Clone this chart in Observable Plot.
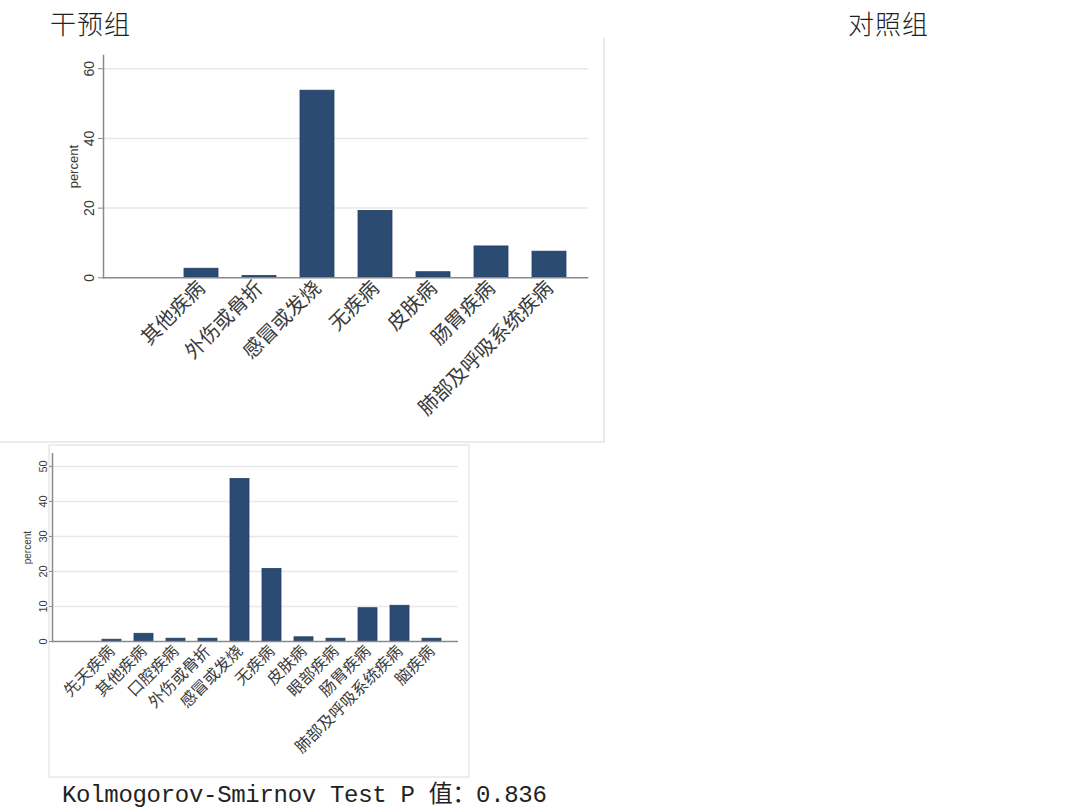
<!DOCTYPE html>
<html>
<head>
<meta charset="utf-8">
<script src="https://cdn.jsdelivr.net/npm/d3@7"></script>
<script src="https://cdn.jsdelivr.net/npm/@observablehq/plot@0.6"></script>
<style>
  html, body { margin: 0; padding: 0; background: #fff; }
  #page { position: relative; width: 1072px; height: 812px; overflow: hidden; background: #fff; }
  .title { position: absolute; font-family: "Noto Sans CJK SC", sans-serif; font-weight: 300;
           font-size: 26px; line-height: 1; color: #222; letter-spacing: 1px; }
  .panel { position: absolute; box-sizing: border-box; }
  .chart { position: absolute; }
  #caption { position: absolute; left: 62px; top: 784px; font-family: "Liberation Mono", "Noto Sans CJK SC", monospace;
             font-size: 24px; line-height: 1; color: #222; letter-spacing: -0.3px; white-space: pre; }
</style>
</head>
<body>
<div id="page">
  <div class="title" style="left:50px; top:10px;">干预组</div>
  <div class="title" style="left:848px; top:10px;">对照组</div>
  <div class="panel" style="left:0; top:38px; width:605px; height:405px; border-right:2px solid #ebebeb; border-bottom:2px solid #ebebeb;"></div>
  <div class="panel" style="left:48px; top:444px; width:422px; height:334px; border:2px solid #ededed;"></div>
  <div class="chart" id="chart-top" style="left:0; top:0;"></div>
  <div class="chart" id="chart-bottom" style="left:0; top:445px;"></div>
  <div id="caption">Kolmogorov-Smirnov Test P 值：0.836</div>
</div>
<script>
// 干预组: disease categories and percentages
const topCats = ["其他疾病", "外伤或骨折", "感冒或发烧", "无疾病", "皮肤病", "肠胃疾病", "肺部及呼吸系统疾病"];
const topPct = [2.6, 0.5, 53.7, 19.2, 1.6, 9.0, 7.5];
const topTicks = [0, 20, 40, 60];

// 对照组: disease categories and percentages
const bottomCats = ["先天疾病", "其他疾病", "口腔疾病", "外伤或骨折", "感冒或发烧", "无疾病", "皮肤病", "眼部疾病", "肠胃疾病", "肺部及呼吸系统疾病", "脑疾病"];
const bottomPct = [0.5, 2.2, 0.8, 0.8, 46.4, 20.7, 1.2, 0.8, 9.5, 10.2, 0.8];
const bottomTicks = [0, 10, 20, 30, 40, 50];

const BAR = "#2b4b73";
const AXIS = "#8a8a8a";
const INK = "#3a3a3a";

function barChart(cats, pct, ticks, o) {
  const rows = cats.map((c, i) => ({cat: c, pct: pct[i]}));
  return Plot.plot({
    width: o.width,
    height: o.height,
    marginTop: o.marginTop,
    marginBottom: o.marginBottom,
    marginLeft: o.marginLeft,
    marginRight: o.marginRight,
    style: {background: "transparent", fontFamily: "'Noto Sans CJK SC', sans-serif", color: INK},
    x: {domain: cats, insetLeft: o.insetLeft, paddingInner: 0.41, paddingOuter: o.paddingOuter, label: null},
    y: {domain: [0, o.yMax], label: null},
    marks: [
      Plot.gridY(ticks.filter(t => t > 0), {stroke: "#e8e8e8", strokeOpacity: 1, strokeWidth: 1.5}),
      Plot.barY(rows, {x: "cat", y: "pct", fill: BAR, stroke: "#223f62", strokeWidth: 0.8}),
      Plot.ruleY([0], {stroke: AXIS, strokeWidth: 1.5}),
      Plot.frame({anchor: "left", stroke: AXIS, strokeWidth: 1.5}),
      Plot.axisY({ticks, tickSize: o.yTickSize, tickPadding: o.yTickPadding, tickRotate: -90,
                  fontSize: o.yFont, fontFamily: "'Liberation Sans', Arial, sans-serif", stroke: AXIS, fill: INK}),
      Plot.axisX({tickSize: 0, tickRotate: -45, tickPadding: o.xTickPadding, fontSize: o.xFont, fill: INK}),
      Plot.text(["percent"], {frameAnchor: "left", textAnchor: "middle", dx: o.labelDx, rotate: -90,
                              fontSize: o.labelFont, fontFamily: "'Liberation Sans', Arial, sans-serif", fill: INK})
    ]
  });
}

document.getElementById("chart-top").append(barChart(topCats, topPct, topTicks, {
  width: 610, height: 441, marginTop: 55, marginBottom: 163.7, marginLeft: 103, marginRight: 21.7,
  insetLeft: 58.3, paddingOuter: 0.37, yMax: 63.8,
  yTickSize: 5, yTickPadding: 5, yFont: 14, xTickPadding: 7, xFont: 20,
  labelDx: -30, labelFont: 13
}));

document.getElementById("chart-bottom").append(barChart(bottomCats, bottomPct, bottomTicks, {
  width: 470, height: 332, marginTop: 8.3, marginBottom: 136, marginLeft: 52, marginRight: 12,
  insetLeft: 32.3, paddingOuter: 0.5, yMax: 53.6,
  yTickSize: 3, yTickPadding: 3, yFont: 11, xTickPadding: 7, xFont: 16,
  labelDx: -25, labelFont: 10
}));
</script>
</body>
</html>
